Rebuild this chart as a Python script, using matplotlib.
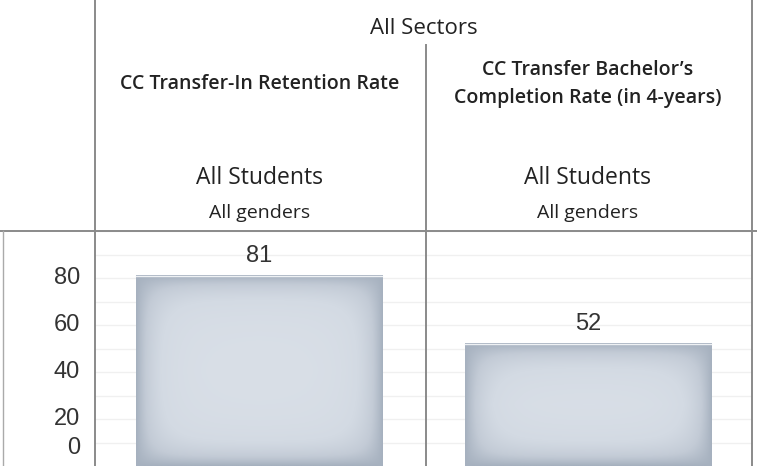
import numpy as np
import matplotlib.pyplot as plt
from matplotlib.lines import Line2D
from matplotlib.colors import LinearSegmentedColormap

# data
measures = ['CC Transfer-In Retention Rate', 'CC Transfer Bachelor\u2019s\nCompletion Rate (in 4-years)']
values = [81, 52]
group_label = 'All Students'
gender_label = 'All genders'
sector_label = 'All Sectors'
yticks = [0, 20, 40, 60, 80]

W, H = 757, 466
fig = plt.figure(figsize=(W / 100, H / 100), dpi=100)
fig.patch.set_facecolor('white')

def fx(px):
    return px / W

def fy(py):
    return 1 - py / H

# plot area: x 95..752, y 231..466
ax = fig.add_axes([fx(95), fy(466), fx(752) - fx(95), fy(231) - fy(466)])
ax.set_xlim(-0.5, 1.5)
ax.set_ylim(0, 100)
for s in ax.spines.values():
    s.set_visible(False)
ax.set_xticks([])
ax.set_yticks(np.arange(10, 101, 10))
ax.yaxis.grid(True, color='#f0f0f0', lw=1)
ax.set_axisbelow(True)
ax.tick_params(axis='y', length=0, labelleft=False)

xpos = np.arange(len(values))
bars = ax.bar(xpos, values, width=0.75, color='none', zorder=2)

# soft vignette fill like the tableau bars
cmap = LinearSegmentedColormap.from_list('vig', ['#a6b1bf', '#c3cbd6', '#d3dae3', '#d9dfe7'])
fig.canvas.draw()
for b in bars:
    x0, y0 = b.get_x(), b.get_y()
    w, h = b.get_width(), b.get_height()
    p0 = ax.transData.transform((x0, y0))
    p1 = ax.transData.transform((x0 + w, y0 + h))
    pw, ph = int(abs(p1[0] - p0[0])), int(abs(p1[1] - p0[1]))
    xx = np.arange(pw)[None, :]
    yy = np.arange(ph)[:, None]
    dx = np.minimum(xx, pw - 1 - xx)
    dy = np.minimum(yy, ph - 1 - yy)
    t = (1 - np.exp(-dx / 22.0)) * (1 - np.exp(-dy / 22.0))
    ax.imshow(t, cmap=cmap, extent=(x0, x0 + w, y0, y0 + h), aspect='auto',
              vmin=0, vmax=1, zorder=2, interpolation='bilinear')
    ax.plot([x0, x0 + w], [y0 + h, y0 + h], color='#eef1f4', lw=1, zorder=3)
    ax.annotate(str(int(h)), (x0 + w / 2, y0 + h), xytext=(0, 6), textcoords='offset points',
                ha='center', va='bottom', fontsize=17, color='#333333', family='Liberation Sans')
ax.set_xlim(-0.5, 1.5)
ax.set_ylim(0, 100)

# y tick labels drawn at the axis values
for v in yticks:
    ax.annotate(str(v), (-0.5, v), xytext=(-15, 7 if v == 0 else 0), textcoords='offset pixels',
                ha='right', va='bottom' if v == 0 else 'center', fontsize=17,
                color='#333333', family='Liberation Sans', annotation_clip=False)

# table lines
lc = '#8a8a8a'
fig.add_artist(Line2D([fx(0), fx(W)], [fy(231), fy(231)], color=lc, lw=1.4))
fig.add_artist(Line2D([fx(95), fx(95)], [fy(0), fy(H)], color=lc, lw=1.4))
fig.add_artist(Line2D([fx(426), fx(426)], [fy(45), fy(H)], color=lc, lw=1.4))
fig.add_artist(Line2D([fx(752), fx(752)], [fy(0), fy(H)], color=lc, lw=1.4))
fig.add_artist(Line2D([fx(3), fx(3)], [fy(231), fy(H)], color='#aaaaaa', lw=1))

# headers
fig.text(fx(424), fy(28), sector_label, ha='center', va='center', fontsize=16,
         family='Open Sans', color='#222222')
centers = [ax.transData.transform((x, 0))[0] / W for x in xpos]
for c, m in zip(centers, measures):
    fig.text(c, fy(84), m, ha='center', va='center', fontsize=14, fontweight='semibold',
             family='Open Sans', color='#222222', linespacing=1.5)
    fig.text(c, fy(178), group_label, ha='center', va='center', fontsize=16.5,
             family='Open Sans', color='#222222')
    fig.text(c, fy(213), gender_label, ha='center', va='center', fontsize=14,
             family='Open Sans', color='#222222')

fig.savefig('out.png', dpi=100)
